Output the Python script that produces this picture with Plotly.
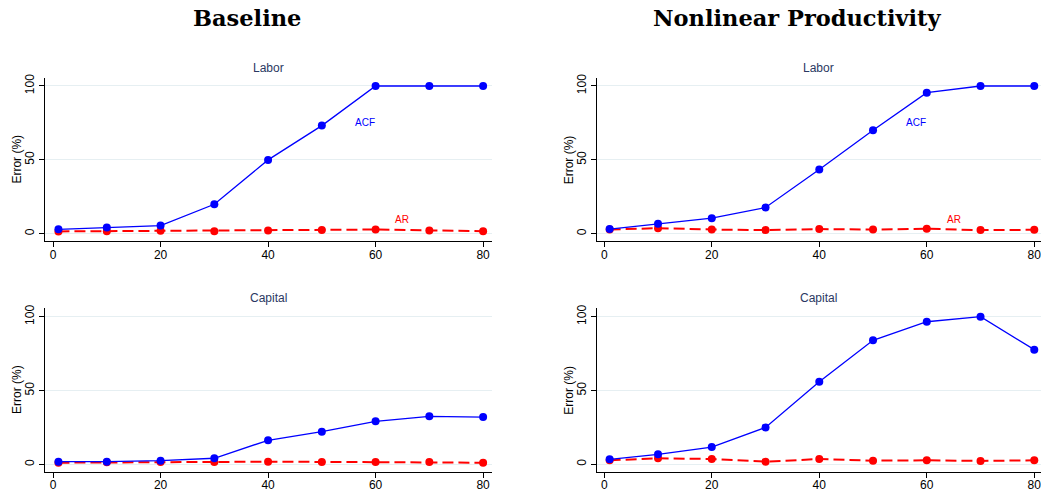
import plotly.graph_objects as go

# Sample sizes (x axis)
periods = [1, 10, 20, 30, 40, 50, 60, 70, 80]

# Error (%) by estimator
base_labor_acf = [3, 4.3, 5.6, 20, 50, 73.2, 100, 100, 100]
base_labor_ar = [1.6, 1.8, 2.0, 1.8, 2.3, 2.5, 2.9, 2.3, 1.8]
base_capital_acf = [1.8, 1.8, 2.5, 4.1, 16.3, 22.1, 29.1, 32.5, 32.0]
base_capital_ar = [1.1, 1.4, 1.6, 1.6, 1.8, 1.6, 1.6, 1.6, 1.1]

nl_labor_acf = [3.2, 6.8, 10.6, 17.8, 43.5, 70.0, 95.5, 100, 100]
nl_labor_ar = [2.9, 3.8, 2.9, 2.5, 3.2, 2.9, 3.4, 2.5, 2.7]
nl_capital_acf = [3.4, 6.8, 11.7, 25.0, 56.0, 84.0, 96.6, 100, 77.7]
nl_capital_ar = [2.7, 4.1, 3.6, 1.8, 3.6, 2.5, 2.7, 2.3, 2.7]

column_titles = ["Baseline", "Nonlinear Productivity"]
panel_titles = ["Labor", "Capital"]
x_ticks = [0, 20, 40, 60, 80]
y_ticks = [0, 50, 100]

W, H = 1041, 491
BLUE = "#0000ff"
RED = "#ff0000"
GRID = "#e6eff2"
TITLE_COL = "#2a3862"
FONT = "Liberation Sans, Arial, sans-serif"

fig = go.Figure()

# panel geometry (pixels): axis left edge, right edge, top, bottom
panels = [
    # (col, row, acf, ar, x_left_px, x_right_px, y_top_px, y_bottom_px, x_range, y_range)
    (0, 0, base_labor_acf, base_labor_ar, 45, 491.7, 78, 241.2, [-1.5, 81.6], [-5.0, 105.4]),
    (1, 0, nl_labor_acf, nl_labor_ar, 596.7, 1041, 78, 241.2, [-1.41, 81.25], [-5.0, 105.4]),
    (0, 1, base_capital_acf, base_capital_ar, 45, 491.7, 308.3, 471.7, [-1.5, 81.6], [-5.0, 105.7]),
    (1, 1, nl_capital_acf, nl_capital_ar, 596.7, 1041, 308.3, 471.7, [-1.41, 81.25], [-5.0, 105.7]),
]

annotations = []
for i, (col, row, acf, ar, xl, xr, yt, yb, xr_, yr_) in enumerate(panels, start=1):
    sfx = "" if i == 1 else str(i)
    xa, ya = "x" + sfx, "y" + sfx
    fig.add_trace(go.Scatter(
        x=periods, y=ar, mode="lines+markers", xaxis=xa, yaxis=ya,
        line=dict(color=RED, width=2, dash="11px,5px"),
        marker=dict(color=RED, size=8), showlegend=False, cliponaxis=False))
    fig.add_trace(go.Scatter(
        x=periods, y=acf, mode="lines+markers", xaxis=xa, yaxis=ya,
        line=dict(color=BLUE, width=1.3),
        marker=dict(color=BLUE, size=8), showlegend=False, cliponaxis=False))

    axis_common = dict(
        showline=True, linecolor="#000000", linewidth=1,
        ticks="outside", ticklen=5, tickcolor="#000000",
        tickfont=dict(family=FONT, size=12, color="#000000"),
        zeroline=False, automargin=False,
    )
    fig.layout["xaxis" + sfx] = dict(
        axis_common, domain=[xl / W, min(xr / W, 1.0)], range=xr_,
        tickvals=x_ticks, showgrid=False, anchor=ya,
        ticklabeloverflow="allow", ticklabelstandoff=-3)
    fig.layout["yaxis" + sfx] = dict(
        axis_common, domain=[1 - yb / H, 1 - yt / H], range=yr_,
        tickvals=y_ticks, tickangle=-90, showgrid=True, gridcolor=GRID,
        gridwidth=1, anchor=xa)

    # y axis title
    annotations.append(dict(
        text="Error (%)", xref="paper", yref=ya + " domain",
        x=(xl - 28) / W, y=0.5, xanchor="center", yanchor="middle",
        textangle=-90, showarrow=False,
        font=dict(family=FONT, size=12, color="#000000")))

    # panel title
    annotations.append(dict(
        text=panel_titles[row], xref=xa + " domain", yref="paper",
        x=0.5, y=1 - (yt - 10) / H, yanchor="middle", showarrow=False,
        font=dict(family=FONT, size=12, color=TITLE_COL)))

    # in-panel series labels on the top row
    if row == 0:
        annotations.append(dict(text="ACF", x=58, y=75, xref=xa, yref=ya,
                                showarrow=False, font=dict(family=FONT, size=10, color=BLUE)))
        annotations.append(dict(text="AR", x=65, y=10, xref=xa, yref=ya,
                                showarrow=False, font=dict(family=FONT, size=10, color=RED)))

# column headings
for cx, txt in zip([247 / W, 797 / W], column_titles):
    annotations.append(dict(
        text="<b>" + txt + "</b>", xref="paper", yref="paper", x=cx, y=1 - 18 / H,
        xanchor="center", yanchor="middle", showarrow=False,
        font=dict(family="DejaVu Serif, serif", size=22.5, color="#000000")))

fig.update_layout(
    width=W, height=H, margin=dict(l=0, r=0, t=0, b=0),
    paper_bgcolor="#ffffff", plot_bgcolor="#ffffff",
    annotations=annotations,
)

fig.write_html("out.html")
